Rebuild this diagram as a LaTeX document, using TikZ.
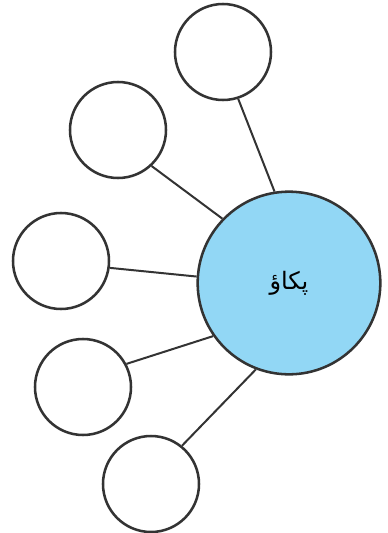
\documentclass[tikz,border=0pt]{standalone}
\usepackage{fontspec}
\usepackage{xcolor}
\TeXXeTstate=1
\newfontfamily\urduFont[Script=Arabic]{DejaVu Sans}
\definecolor{skyFill}{RGB}{146,215,245}
\definecolor{inkGray}{RGB}{51,51,51}

\begin{document}
\begin{tikzpicture}[x=0.75pt,y=-0.75pt,
  hubCircle/.style={circle,draw=inkGray,fill=skyFill,line width=1.9pt,minimum size=137pt,inner sep=0pt},
  leafCircle/.style={circle,draw=inkGray,fill=white,line width=1.9pt,minimum size=72pt,inner sep=0pt},
  spoke/.style={draw=inkGray,line width=1.5pt}]
\useasboundingbox (0,0) rectangle (387,533);
\node[hubCircle] (hub) at (289,283) {\urduFont\fontsize{18}{21}\selectfont\beginR پکاؤ\endR};
\node[leafCircle] (leafA) at (223,52) {};
\node[leafCircle] (leafB) at (118,130) {};
\node[leafCircle] (leafC) at (61,261) {};
\node[leafCircle] (leafD) at (83,387) {};
\node[leafCircle] (leafE) at (151,484) {};
\draw[spoke] (leafA.288) -- (hub.99);
\draw[spoke] (leafB.313) -- (hub.136);
\draw[spoke] (leafC.352) -- (hub.176);
\draw[spoke] (leafD.28) -- (hub.215);
\draw[spoke] (leafE.51) -- (hub.249);
\end{tikzpicture}
\end{document}
